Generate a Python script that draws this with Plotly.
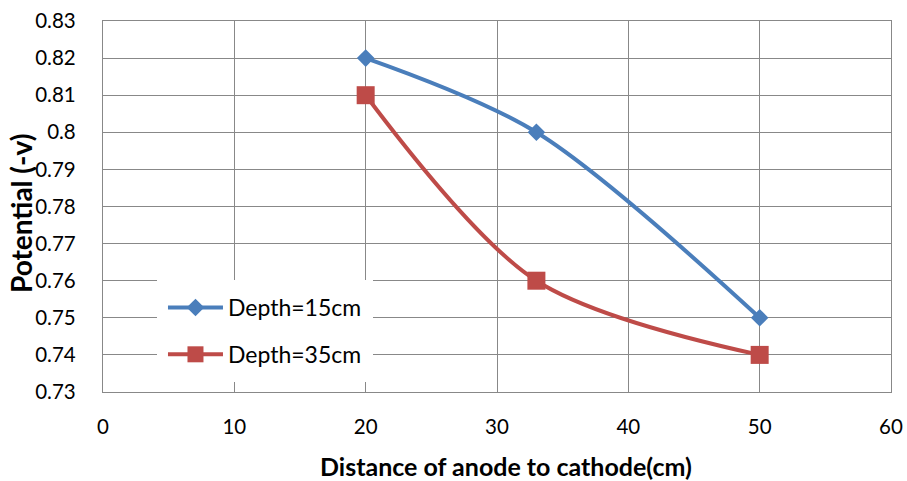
import plotly.graph_objects as go

distance = [20, 33, 50]
depth15 = [0.82, 0.80, 0.75]
depth35 = [0.81, 0.76, 0.74]
series_names = ["Depth=15cm", "Depth=35cm"]
y_tickvals = [0.73, 0.74, 0.75, 0.76, 0.77, 0.78, 0.79, 0.80, 0.81, 0.82, 0.83]
y_ticktext = ["0.73", "0.74", "0.75", "0.76", "0.77", "0.78", "0.79", "0.8", "0.81", "0.82", "0.83"]
x_tickvals = [0, 10, 20, 30, 40, 50, 60]

FONT = "Lato"
GRID = "#888888"
BLUE = "#4A7EBB"
RED = "#BE4B48"

fig = go.Figure()
fig.add_trace(go.Scatter(
    x=distance, y=depth15, name=series_names[0], mode="lines+markers",
    line=dict(color=BLUE, width=4, shape="spline", smoothing=0.9),
    marker=dict(symbol="diamond", size=13.5, color=BLUE),
    legendgroup="a",
))
fig.add_trace(go.Scatter(
    x=distance, y=depth35, name=series_names[1], mode="lines+markers",
    line=dict(color=RED, width=4, shape="spline", smoothing=0.9),
    marker=dict(symbol="square", size=18, color=RED),
    legendgroup="b",
))

fig.update_layout(
    width=907, height=481,
    margin=dict(l=103, r=16, t=21, b=89, autoexpand=False),
    paper_bgcolor="white", plot_bgcolor="white",
    font=dict(family=FONT, size=21, color="#000000"),
    showlegend=True,
    legend=dict(
        x=0.0685, y=0.302, xanchor="left", yanchor="top",
        bgcolor="white", bordercolor="white", borderwidth=6,
        font=dict(family=FONT, size=23, color="#000000"),
        itemwidth=55, tracegroupgap=14, traceorder="grouped",
    ),
    xaxis=dict(
        range=[0, 60], tickvals=x_tickvals, automargin=False,
        showgrid=True, gridcolor=GRID, gridwidth=1.3,
        showline=True, linecolor=GRID, linewidth=1.3, mirror=True,
        ticks="outside", ticklen=16, tickcolor="rgba(0,0,0,0)",
        tickfont=dict(family=FONT, size=20.5, color="#000000"),
        zeroline=False,
    ),
    yaxis=dict(
        range=[0.73, 0.83], tickvals=y_tickvals, ticktext=y_ticktext, automargin=False,
        showgrid=True, gridcolor=GRID, gridwidth=1.3,
        showline=True, linecolor=GRID, linewidth=1.3, mirror=True,
        ticks="outside", ticklen=22, tickcolor="rgba(0,0,0,0)",
        tickfont=dict(family=FONT, size=20.5, color="#000000"),
        zeroline=False,
    ),
    annotations=[
        dict(text="<b>Distance of anode to cathode(cm)</b>", xref="paper", yref="paper",
             x=0.511, y=-0.2, xanchor="center", yanchor="middle", showarrow=False,
             font=dict(family=FONT, size=25, color="#000000")),
        dict(text="<b>Potential (-v)</b>", xref="paper", yref="paper",
             x=-0.104, y=0.48, xanchor="center", yanchor="middle", showarrow=False,
             textangle=-90, font=dict(family=FONT, size=28, color="#000000")),
    ],
)

fig.write_html("out.html", config={"displayModeBar": False},
               post_script="document.body.style.margin='0';document.body.style.overflow='hidden';")
